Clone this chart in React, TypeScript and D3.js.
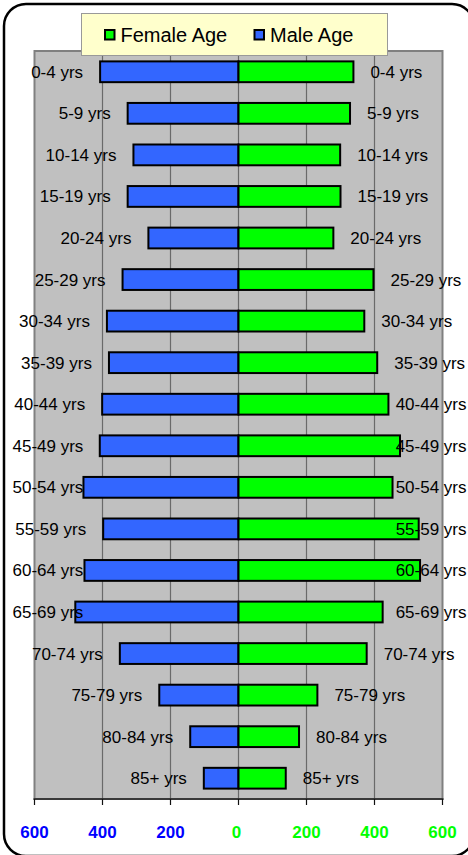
import React, { useEffect, useRef } from 'react';
import * as d3 from 'd3';

const categories = ['0-4 yrs', '5-9 yrs', '10-14 yrs', '15-19 yrs', '20-24 yrs', '25-29 yrs', '30-34 yrs', '35-39 yrs', '40-44 yrs', '45-49 yrs', '50-54 yrs', '55-59 yrs', '60-64 yrs', '65-69 yrs', '70-74 yrs', '75-79 yrs', '80-84 yrs', '85+ yrs'];
const maleAge = [407, 326, 309, 326, 265, 341, 387, 381, 401, 408, 456, 398, 453, 480, 349, 233, 142, 102];
const femaleAge = [338, 328, 299, 300, 279, 397, 370, 408, 441, 475, 453, 530, 534, 424, 377, 232, 178, 139];
const tickValues = [-600, -400, -200, 0, 200, 400, 600];

const W = 468;
const H = 855;
const FONT = "'Liberation Sans', Arial, sans-serif";

export default function App() {
  const ref = useRef<SVGSVGElement | null>(null);

  useEffect(() => {
    const svg = d3.select(ref.current);
    svg.selectAll('*').remove();

    const plotL = 34.5, plotR = 442.5, plotT = 51, plotB = 799;
    const x = d3.scaleLinear().domain([-600, 600]).range([plotL, plotR]);
    const y = d3.scaleBand<string>().domain(categories).range([plotT, plotB]).paddingInner(0.5).paddingOuter(0.25);

    // outer rounded border
    svg.append('rect')
      .attr('x', 4).attr('y', 4).attr('width', W + 2).attr('height', H - 3)
      .attr('rx', 22).attr('ry', 22)
      .attr('fill', '#fff').attr('stroke', '#000').attr('stroke-width', 2.5);

    // plot area
    svg.append('rect')
      .attr('x', plotL).attr('y', plotT).attr('width', plotR - plotL).attr('height', plotB - plotT)
      .attr('fill', '#C0C0C0').attr('stroke', '#808080').attr('stroke-width', 2);

    // gridlines
    svg.append('g').selectAll('line')
      .data(tickValues.filter(v => v !== -600 && v !== 600))
      .join('line')
      .attr('x1', d => x(d)).attr('x2', d => x(d))
      .attr('y1', plotT).attr('y2', plotB)
      .attr('stroke', '#6a6a6a').attr('stroke-width', 1.2);

    // axis line
    svg.append('line')
      .attr('x1', plotL - 1).attr('x2', plotR + 1)
      .attr('y1', plotB).attr('y2', plotB)
      .attr('stroke', '#222').attr('stroke-width', 1.5);

    // tick marks
    svg.append('g').selectAll('line')
      .data(tickValues)
      .join('line')
      .attr('x1', d => x(d)).attr('x2', d => x(d))
      .attr('y1', plotB).attr('y2', plotB + 6)
      .attr('stroke', '#111').attr('stroke-width', 1.2);

    // tick labels
    svg.append('g').selectAll('text')
      .data(tickValues)
      .join('text')
      .attr('x', d => x(d) - (d === 0 ? 2 : 0))
      .attr('y', 838)
      .attr('text-anchor', 'middle')
      .attr('font-family', FONT)
      .attr('font-weight', 'bold')
      .attr('font-size', 17)
      .attr('fill', d => (d < 0 ? '#0000FF' : '#00FF00'))
      .text(d => String(Math.abs(d)));

    const bh = y.bandwidth();

    // male bars
    svg.append('g').selectAll('rect')
      .data(categories)
      .join('rect')
      .attr('x', (_, i) => x(-maleAge[i]))
      .attr('y', d => y(d) as number)
      .attr('width', (_, i) => x(0) - x(-maleAge[i]))
      .attr('height', bh)
      .attr('fill', '#3366FF').attr('stroke', '#000').attr('stroke-width', 2);

    // female bars
    svg.append('g').selectAll('rect')
      .data(categories)
      .join('rect')
      .attr('x', x(0))
      .attr('y', d => y(d) as number)
      .attr('width', (_, i) => x(femaleAge[i]) - x(0))
      .attr('height', bh)
      .attr('fill', '#00FF00').attr('stroke', '#000').attr('stroke-width', 2);

    // labels
    const lg = svg.append('g')
      .attr('font-family', FONT)
      .attr('font-size', 17)
      .attr('fill', '#000');

    categories.forEach((c, i) => {
      const cy = (y(c) as number) + bh / 2 + 6;
      const lx = x(-maleAge[i]) - 17;
      const tl = lg.append('text').attr('x', lx).attr('y', cy).attr('text-anchor', 'end').text(c);
      const wl = (tl.node() as SVGTextElement).getComputedTextLength();
      if (lx - wl < 12.5) tl.attr('x', 12.5).attr('text-anchor', 'start');

      const rx = x(femaleAge[i]) + 17;
      const tr = lg.append('text').attr('x', rx).attr('y', cy).attr('text-anchor', 'start').text(c);
      const wr = (tr.node() as SVGTextElement).getComputedTextLength();
      if (rx + wr > 466.5) tr.attr('x', 466.5).attr('text-anchor', 'end');
    });

    // legend
    const leg = svg.append('g');
    leg.append('rect')
      .attr('x', 81.5).attr('y', 13.5).attr('width', 306).attr('height', 42)
      .attr('fill', '#FFFFCC').attr('stroke', '#999').attr('stroke-width', 1);
    const items = [
      { label: 'Female Age', color: '#00FF00', x: 104 },
      { label: 'Male Age', color: '#3366FF', x: 253.5 },
    ];
    items.forEach(it => {
      leg.append('rect')
        .attr('x', it.x + 1).attr('y', 30).attr('width', 9.5).attr('height', 9.5)
        .attr('fill', it.color).attr('stroke', '#000').attr('stroke-width', 2);
      leg.append('text')
        .attr('x', it.x + 16.5).attr('y', 42)
        .attr('font-family', FONT).attr('font-size', 20).attr('fill', '#000')
        .text(it.label);
    });
  }, []);

  return (
    <svg
      ref={ref}
      width={W}
      height={H}
      style={{ position: 'absolute', left: 0, top: 0, display: 'block' }}
    />
  );
}
